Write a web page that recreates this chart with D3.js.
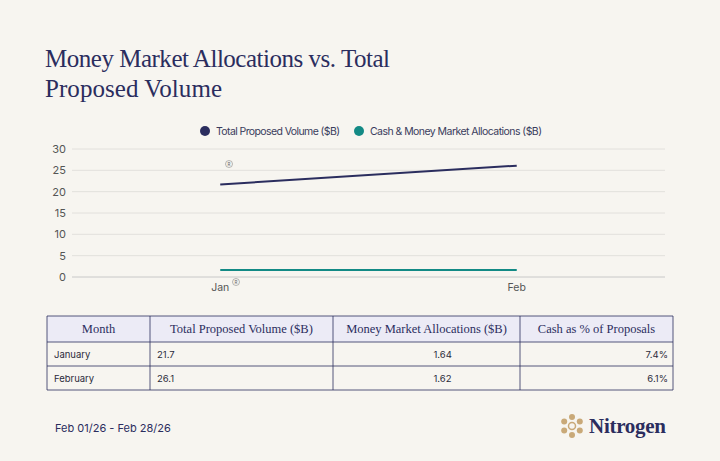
<!DOCTYPE html>
<html><head><meta charset="utf-8">
<script src="https://cdn.jsdelivr.net/npm/d3@7"></script>
<style>body{margin:0;background:#f7f5f0;}</style>
</head><body><div id="chart"></div>
<script>
const months = ['Jan', 'Feb'];
const totalVolume = [21.7, 26.1];
const mmAlloc = [1.64, 1.62];
const yTicks = [0, 5, 10, 15, 20, 25, 30];
const tableHead = ['Month', 'Total Proposed Volume ($B)', 'Money Market Allocations ($B)', 'Cash as % of Proposals'];
const tableRows = [['January', '21.7', '1.64', '7.4%'], ['February', '26.1', '1.62', '6.1%']];

const W = 720, H = 461, navy = '#2b2d5e', teal = '#138a85', sans = 'Inter, "Noto Sans", sans-serif';
const serif = '"Liberation Serif", "DejaVu Serif", serif';
const svg = d3.select('#chart').append('svg').attr('width', W).attr('height', H);
svg.append('rect').attr('width', W).attr('height', H).attr('fill', '#f7f5f0');

// titulo
const title = svg.append('text').attr('font-family', serif).attr('font-size', 25).attr('fill', navy);
title.append('tspan').attr('x', 45).attr('y', 67).attr('textLength', 345).text('Money Market Allocations vs. Total');
title.append('tspan').attr('x', 45).attr('y', 97).attr('textLength', 177).text('Proposed Volume');

// leyenda
const legend = [['Total Proposed Volume ($B)', navy, 205, 124], ['Cash & Money Market Allocations ($B)', teal, 359, 172]];
legend.forEach(([t, c, x, len]) => {
  svg.append('circle').attr('cx', x).attr('cy', 131).attr('r', 5).attr('fill', c);
  svg.append('text').attr('x', x + 11).attr('y', 135).attr('font-family', sans).attr('font-size', 10.5)
    .attr('textLength', len).attr('fill', '#3a3c5c').text(t);
});

const x = d3.scalePoint().domain(months).range([72, 665]).padding(0.5);
const y = d3.scaleLinear().domain([0, 30]).range([277, 149]);

svg.append('g').selectAll('line').data(yTicks).join('line')
  .attr('x1', 72).attr('x2', 665).attr('y1', d => y(d)).attr('y2', d => y(d))
  .attr('stroke', d => d === 0 ? '#c8c8c8' : '#e2e0dc').attr('stroke-width', 1);
svg.append('g').selectAll('text').data(yTicks).join('text')
  .attr('x', 66).attr('y', d => y(d) + 4).attr('text-anchor', 'end')
  .attr('font-family', sans).attr('font-size', 11).attr('fill', '#555').text(d => d);
svg.append('g').selectAll('text').data(months).join('text')
  .attr('x', d => x(d)).attr('y', 291).attr('text-anchor', 'middle')
  .attr('font-family', sans).attr('font-size', 10.5).attr('fill', '#555').text(d => d);

const line = d3.line().x((d, i) => x(months[i])).y(d => y(d));
svg.append('path').attr('d', line(totalVolume)).attr('fill', 'none').attr('stroke', navy).attr('stroke-width', 2);
svg.append('path').attr('d', line(mmAlloc)).attr('fill', 'none').attr('stroke', teal).attr('stroke-width', 2);

// marcas pequeñas
[[229, 164], [236, 282]].forEach(([cx, cy]) => {
  svg.append('circle').attr('cx', cx).attr('cy', cy).attr('r', 3.5).attr('fill', 'none').attr('stroke', '#888').attr('stroke-width', 0.6);
  svg.append('text').attr('x', cx).attr('y', cy + 1.8).attr('text-anchor', 'middle').attr('font-size', 4.5)
    .attr('font-family', sans).attr('fill', '#666').text('R');
});

// tabla
const cols = [47, 150, 333, 520, 673], rowsY = [316, 342, 366, 390];
svg.append('rect').attr('x', 47).attr('y', 316).attr('width', 626).attr('height', 26).attr('fill', '#ecebf6');
rowsY.forEach(ry => svg.append('line').attr('x1', 47).attr('x2', 673).attr('y1', ry).attr('y2', ry).attr('stroke', navy).attr('stroke-width', 0.8));
cols.forEach(cx => svg.append('line').attr('x1', cx).attr('x2', cx).attr('y1', 316).attr('y2', 390).attr('stroke', navy).attr('stroke-width', 0.8));
tableHead.forEach((t, i) => svg.append('text').attr('x', (cols[i] + cols[i + 1]) / 2).attr('y', 333)
  .attr('text-anchor', 'middle').attr('font-family', serif).attr('font-size', 12.5).attr('fill', navy).text(t));
const cellX = [c => c[0] + 7, c => c[1] + 7, c => (c[2] + c[3]) / 2 + 7, c => c[4] - 5];
const cellAnchor = ['start', 'start', 'start', 'end'];
tableRows.forEach((r, j) => r.forEach((t, i) => {
  svg.append('text').attr('x', cellX[i](cols)).attr('y', rowsY[j + 1] + 16)
    .attr('text-anchor', cellAnchor[i]).attr('font-family', sans).attr('font-size', 9.5).attr('fill', '#2b2b3b').text(t);
}));

// pie
svg.append('text').attr('x', 55).attr('y', 432).attr('font-family', sans).attr('font-size', 11).attr('fill', navy).text('Feb 01/26 - Feb 28/26');
const logo = svg.append('g').attr('transform', 'translate(572,426)');
d3.range(6).forEach(k => {
  const a = k * Math.PI / 3 - Math.PI / 2;
  logo.append('circle').attr('cx', 9 * Math.cos(a)).attr('cy', 9 * Math.sin(a)).attr('r', 3).attr('fill', '#c9a978');
});
logo.append('circle').attr('r', 3.5).attr('fill', 'none').attr('stroke', '#c9a978').attr('stroke-width', 1.5);
svg.append('text').attr('x', 589).attr('y', 433).attr('font-family', serif).attr('font-size', 21).attr('font-weight', 'bold')
  .attr('textLength', 77).attr('fill', navy).text('Nitrogen');
</script></body></html>
